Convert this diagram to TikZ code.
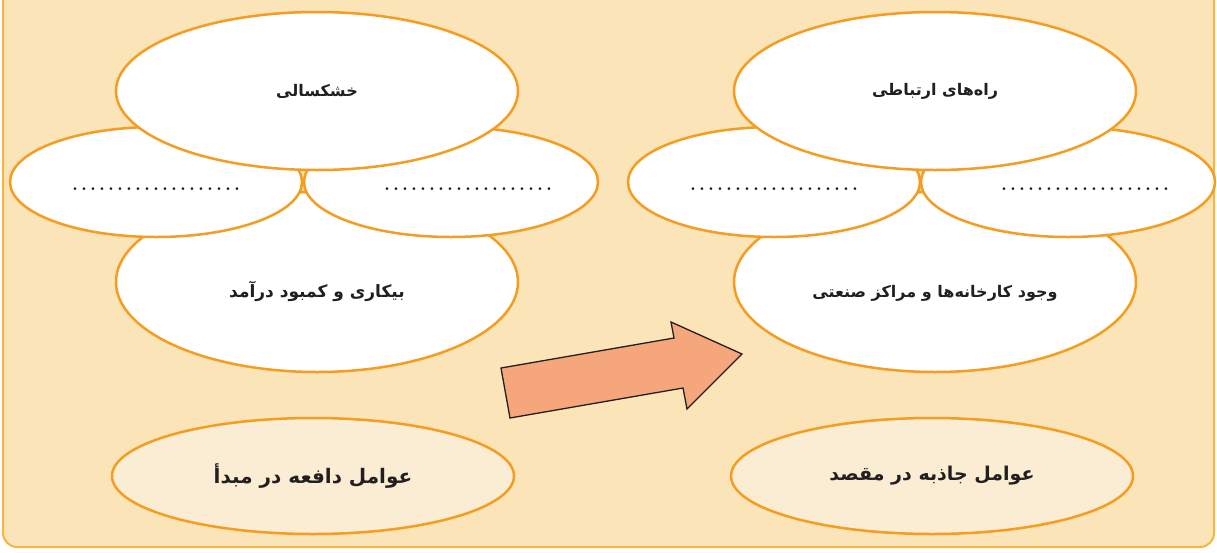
\documentclass[tikz,border=0pt]{standalone}
\usepackage{fontspec}
\usetikzlibrary{shapes.geometric}

\newfontfamily\farsi[Script=Arabic]{DejaVu Sans}
\TeXXeTstate=1

\definecolor{bgpeach}{RGB}{251,228,184}
\definecolor{rimorange}{RGB}{244,157,32}
\definecolor{creamfill}{RGB}{251,237,211}
\definecolor{framegold}{RGB}{244,182,62}
\definecolor{arrowsalmon}{RGB}{245,167,123}
\definecolor{inkdark}{RGB}{35,31,32}

\newcommand\fa[1]{\farsi\bfseries\fontsize{#1}{#1}\selectfont}
\newcommand\drop[2]{\raisebox{#1}[0pt][0pt]{#2}}
\newcommand\blankdots{\drop{-8pt}{\bfseries\fontsize{19pt}{19pt}\selectfont\color{inkdark}\hbox to 171pt{\xleaders\hbox to 9pt{\hss.\hss}\hfill}}}

\begin{document}
\begin{tikzpicture}[x=1pt, y=-1pt,
    bubble/.style={ellipse, draw=rimorange, line width=2.5pt, fill=white, inner sep=0pt, text=inkdark},
    cream/.style={bubble, fill=creamfill}]
  \useasboundingbox (0,0) rectangle (1217,552);
  \fill[white] (0,0) rectangle (1217,552);
  \draw[framegold, line width=2pt, fill=bgpeach, rounded corners=14pt] (3,-30) rectangle (1214,547);

  % left side
  \node[bubble, minimum width=402pt, minimum height=180pt] (D) at (317,282) {\drop{-15pt}{\fa{17pt}\beginR بیکاری و کمبود درآمد\endR}};
  \node[bubble, minimum width=292pt, minimum height=110pt] (B) at (156,182) {\blankdots};
  \node[bubble, minimum width=294pt, minimum height=110pt] (C) at (451,182) {\hspace*{34pt}\blankdots};
  \node[bubble, minimum width=402pt, minimum height=158pt] (A) at (317,91) {\fa{16pt}\beginR خشکسالی\endR};
  \node[cream, minimum width=402pt, minimum height=116pt] (E) at (313,476) {\fa{20pt}\beginR عوامل دافعه در مبدأ\endR};

  % right side
  \node[bubble, minimum width=402pt, minimum height=180pt] (I) at (935,282) {\drop{-15pt}{\fa{16pt}\beginR وجود کارخانه‌ها و مراکز صنعتی\endR}};
  \node[bubble, minimum width=292pt, minimum height=110pt] (G) at (774,182) {\blankdots};
  \node[bubble, minimum width=294pt, minimum height=110pt] (H) at (1068,182) {\hspace*{34pt}\blankdots};
  \node[bubble, minimum width=402pt, minimum height=158pt] (F) at (935,91) {\fa{16pt}\beginR راه‌های ارتباطی\endR};
  \node[cream, minimum width=402pt, minimum height=116pt] (J) at (932,476) {\fa{19pt}\beginR عوامل جاذبه در مقصد\endR};

  % arrow
  \draw[draw=inkdark, fill=arrowsalmon, line width=1.3pt]
    (501,368) -- (674,338) -- (671,322) -- (742,354) -- (687,409) -- (683,388) -- (510,418) -- cycle;
\end{tikzpicture}
\end{document}
